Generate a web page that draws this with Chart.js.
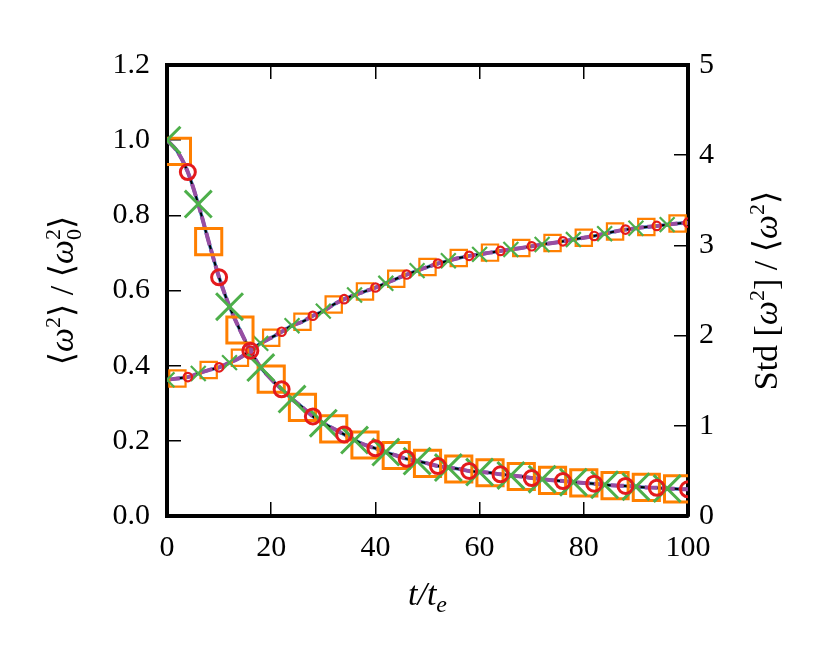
<!DOCTYPE html>
<html>
<head>
<meta charset="utf-8">
<script src="https://cdn.jsdelivr.net/npm/chart.js@4.4.1/dist/chart.umd.min.js"></script>
<style>
  body { margin: 0; background: #fff; }
  #wrap { width: 830px; height: 664px; }
</style>
</head>
<body>
<div id="wrap"><canvas id="chart" width="830" height="664"></canvas></div>
<script>
  // time axis, t / t_e
  var times = [0, 2, 4, 6, 8, 10, 12, 14, 16, 18, 20, 22, 24, 26, 28, 30, 32, 34, 36, 38, 40,
    42, 44, 46, 48, 50, 52, 54, 56, 58, 60, 62, 64, 66, 68, 70, 72, 74, 76, 78, 80,
    82, 84, 86, 88, 90, 92, 94, 96, 98, 100];

  // <w^2> / <w0^2>  (left axis)
  var meanW2 = [1.00, 0.97, 0.915, 0.83, 0.73, 0.635, 0.557, 0.495, 0.44, 0.395, 0.364,
    0.337, 0.311, 0.289, 0.265, 0.247, 0.232, 0.217, 0.202, 0.189, 0.180,
    0.170, 0.161, 0.152, 0.146, 0.140, 0.133, 0.129, 0.125, 0.120, 0.117,
    0.115, 0.111, 0.108, 0.105, 0.101, 0.098, 0.095, 0.093, 0.090, 0.088,
    0.086, 0.083, 0.081, 0.080, 0.078, 0.076, 0.075, 0.073, 0.072, 0.071];

  // Std[w^2] / <w^2>  (right axis)
  var stdW2 = [1.51, 1.525, 1.54, 1.58, 1.618, 1.648, 1.70, 1.755, 1.833, 1.914, 1.977,
    2.043, 2.11, 2.154, 2.22, 2.271, 2.345, 2.404, 2.45, 2.49, 2.533,
    2.58, 2.63, 2.677, 2.72, 2.76, 2.799, 2.83, 2.86, 2.884, 2.90,
    2.92, 2.939, 2.955, 2.972, 2.99, 3.01, 3.027, 3.045, 3.065, 3.085,
    3.105, 3.13, 3.155, 3.175, 3.19, 3.205, 3.216, 3.23, 3.242, 3.252];

  var xTicks = [0, 20, 40, 60, 80, 100];
  var leftTicks = [0, 0.2, 0.4, 0.6, 0.8, 1.0, 1.2];
  var rightTicks = [0, 1, 2, 3, 4, 5];

  var serif = '"Liberation Serif", "DejaVu Serif", serif';
  var tickFont = { family: serif, size: 30 };

  // phase -1 = every point, otherwise every third point starting at phase
  function pts(values, phase) {
    return times.map(function (t, i) { return { x: t, y: values[i] }; })
      .filter(function (p, i) { return phase < 0 || i % 3 === phase; });
  }

  function markers(values, axis, style, color, r, bw, phase) {
    return {
      data: pts(values, phase), yAxisID: axis, showLine: false,
      pointStyle: style, pointRadius: r, pointHoverRadius: r,
      pointBorderColor: color, pointBackgroundColor: 'rgba(0,0,0,0)', pointBorderWidth: bw
    };
  }

  function curve(values, axis, color, width, dash) {
    return {
      data: pts(values, -1), yAxisID: axis, showLine: true, pointRadius: 0,
      borderColor: color, borderWidth: width, borderDash: dash || [], tension: 0.3, fill: false
    };
  }

  function fixTicks(list) {
    return function (scale) { scale.ticks = list.map(function (v) { return { value: v }; }); };
  }

  // axis titles with super/subscripts: [text, size, dy, italic, noAdvance]
  var leftLabel = [['⟨', 34, 0], ['ω', 34, 0, true], ['2', 22, -13], ['⟩', 34, 0], [' / ', 34, 0],
    ['⟨', 34, 0], ['ω', 34, 0, true], ['2', 22, -13, false, true], ['0', 22, 8], ['⟩', 34, 0]];
  var rightLabel = [['Std ', 34, 0], ['[', 34, 0], ['ω', 34, 0, true], ['2', 22, -13], [']', 34, 0],
    [' / ', 34, 0], ['⟨', 34, 0], ['ω', 34, 0, true], ['2', 22, -13], ['⟩', 34, 0]];
  var bottomLabel = [['t/t', 34, 0, true], ['e', 24, 7, true]];

  function drawRich(ctx, parts, cx, cy, rot) {
    function setFont(p) { ctx.font = (p[3] ? 'italic ' : '') + p[1] + 'px ' + serif; }
    var total = 0;
    parts.forEach(function (p) { setFont(p); if (!p[4]) total += ctx.measureText(p[0]).width; });
    ctx.save();
    ctx.translate(cx, cy);
    ctx.rotate(rot);
    ctx.fillStyle = '#000';
    ctx.textBaseline = 'alphabetic';
    ctx.textAlign = 'left';
    var x = -total / 2;
    parts.forEach(function (p) {
      setFont(p);
      ctx.fillText(p[0], x, 11 + p[2]);
      if (!p[4]) x += ctx.measureText(p[0]).width;
    });
    ctx.restore();
  }

  var axisTitles = {
    id: 'axisTitles',
    afterDraw: function (chart) {
      var ctx = chart.ctx, a = chart.chartArea;
      var mid = (a.top + a.bottom) / 2;
      drawRich(ctx, leftLabel, 62, mid, -Math.PI / 2);
      drawRich(ctx, rightLabel, 766, mid, -Math.PI / 2);
      drawRich(ctx, bottomLabel, (a.left + a.right) / 2, 594, 0);
    }
  };

  var axisGrid = { drawOnChartArea: false, color: '#000', lineWidth: 1.5, tickLength: -14 };
  var axisBorder = { color: '#000', width: 4 };

  new Chart(document.getElementById('chart'), {
    type: 'scatter',
    data: {
      datasets: [
        markers(meanW2, 'y', 'circle', '#e41a1c', 7.5, 3, 2),
        markers(meanW2, 'y', 'crossRot', '#4daf4a', 19, 3, 0),
        markers(meanW2, 'y', 'rect', '#ff7f00', 18.5, 3, 1),
        markers(stdW2, 'y2', 'circle', '#e41a1c', 4.2, 2.2, 2),
        markers(stdW2, 'y2', 'crossRot', '#4daf4a', 10.5, 2.2, 0),
        markers(stdW2, 'y2', 'rect', '#ff7f00', 11.5, 2.2, 1),
        curve(meanW2, 'y', '#984ea3', 4, [13, 4]),
        curve(stdW2, 'y2', '#984ea3', 4, [13, 4]),
        curve(meanW2, 'y', '#000', 2),
        curve(stdW2, 'y2', '#000', 2),
        curve(meanW2, 'y', '#377eb8', 3.5),
        curve(stdW2, 'y2', '#377eb8', 3.5)
      ]
    },
    options: {
      responsive: false,
      animation: false,
      devicePixelRatio: 1,
      layout: { padding: 0 },
      plugins: { legend: { display: false }, tooltip: { enabled: false } },
      scales: {
        x: {
          type: 'linear', position: 'bottom', min: 0, max: 100,
          afterBuildTicks: fixTicks(xTicks),
          afterFit: function (s) { s.height = 148; },
          grid: axisGrid, border: axisBorder,
          ticks: { font: tickFont, color: '#000', padding: 28, maxRotation: 0 }
        },
        x2: {
          type: 'linear', position: 'top', min: 0, max: 100,
          afterBuildTicks: fixTicks(xTicks),
          afterFit: function (s) { s.height = 65; },
          grid: axisGrid, border: axisBorder,
          ticks: { display: false }
        },
        y: {
          type: 'linear', position: 'left', min: 0, max: 1.2,
          afterBuildTicks: fixTicks(leftTicks),
          afterFit: function (s) { s.width = 167; },
          grid: axisGrid, border: axisBorder,
          ticks: { font: tickFont, color: '#000', padding: 31,
            callback: function (v) { return v.toFixed(1); } }
        },
        y2: {
          type: 'linear', position: 'right', min: 0, max: 5,
          afterBuildTicks: fixTicks(rightTicks),
          afterFit: function (s) { s.width = 142; },
          grid: axisGrid, border: axisBorder,
          ticks: { font: tickFont, color: '#000', padding: 25 }
        }
      }
    },
    plugins: [axisTitles]
  });
</script>
</body>
</html>
